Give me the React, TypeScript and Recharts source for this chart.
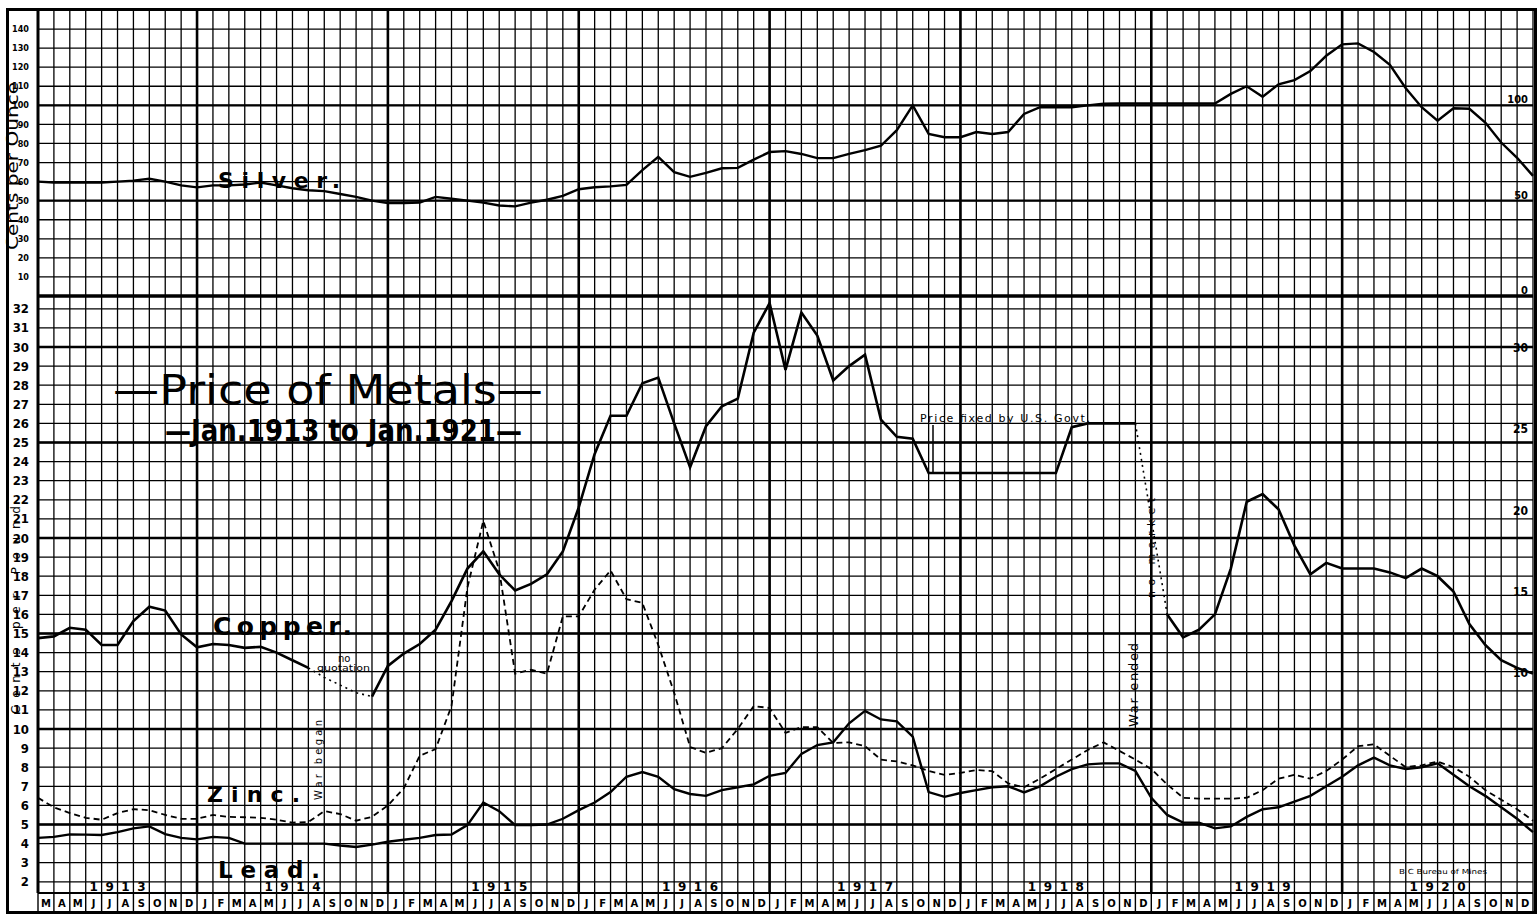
import React from 'react';
import { LineChart, Line, XAxis, YAxis, CartesianGrid, ReferenceLine } from 'recharts';

// month cells along the bottom row: Mar 1913 .. Dec 1920
const MONTH_CELLS = [
  'M', 'A', 'M', 'J', 'J', 'A', 'S', 'O', 'N', 'D',
  'J', 'F', 'M', 'A', 'M', 'J', 'J', 'A', 'S', 'O', 'N', 'D',
  'J', 'F', 'M', 'A', 'M', 'J', 'J', 'A', 'S', 'O', 'N', 'D',
  'J', 'F', 'M', 'A', 'M', 'J', 'J', 'A', 'S', 'O', 'N', 'D',
  'J', 'F', 'M', 'A', 'M', 'J', 'J', 'A', 'S', 'O', 'N', 'D',
  'J', 'F', 'M', 'A', 'M', 'J', 'J', 'A', 'S', 'O', 'N', 'D',
  'J', 'F', 'M', 'A', 'M', 'J', 'J', 'A', 'S', 'O', 'N', 'D',
  'J', 'F', 'M', 'A', 'M', 'J', 'J', 'A', 'S', 'O', 'N', 'D',
];

// year written one digit per cell, starting at this cell
const YEAR_MARKS = [
  { year: '1913', cell: 3 },
  { year: '1914', cell: 14 },
  { year: '1915', cell: 27 },
  { year: '1916', cell: 39 },
  { year: '1917', cell: 50 },
  { year: '1918', cell: 62 },
  { year: '1919', cell: 75 },
  { year: '1920', cell: 86 },
];

// January boundaries (heavier rules)
const YEAR_LINES = [10, 22, 34, 46, 58, 70, 82];

// monthly prices, one per month boundary (Mar 1913 .. Jan 1921)
const SILVER = [
  60, 59.5, 59.5, 59.5, 59.5, 60, 60.5, 61.5, 60, 58,
  57, 58, 58, 58.5, 59.5, 58, 56.5, 55.5, 55, 53.5,
  52, 50, 48.7, 48.7, 49, 52, 51, 50, 49, 47.5,
  47, 49, 50.5, 52.5, 56, 57, 57.5, 58.3, 66, 73,
  65, 62.5, 64.6, 67, 67.2, 71.5, 75.5, 76, 74.5, 72.3,
  72.3, 74.5, 76.5, 78.8, 87, 100, 85, 83.3, 83.3, 86,
  85, 86, 95.5, 99, 99, 99, 100, 100.8, 101, 101,
  101, 101, 101, 101, 101, 106, 110, 104.5, 111, 113.2,
  118, 126, 132, 132.5, 128, 121.3, 109, 99, 92, 98.5,
  98.2, 91, 80.5, 72.5, 63,
];

const COPPER = [
  14.76, 14.85, 15.3, 15.2, 14.4, 14.4, 15.65, 16.4, 16.2, 14.95,
  14.28, 14.45, 14.4, 14.25, 14.3, 14.0, 13.6, 13.2, null, null,
  null, 11.7, 13.3, 13.95, 14.45, 15.2, 16.7, 18.4, 19.3, 18.1,
  17.25, 17.6, 18.1, 19.3, 21.6, 24.4, 26.4, 26.4, 28.1, 28.4,
  26.0, 23.7, 25.85, 26.9, 27.3, 30.75, 32.3, 28.8, 31.8, 30.6,
  28.25, 29.0, 29.6, 26.2, 25.3, 25.2, 23.4, 23.4, 23.4, 23.4,
  23.4, 23.4, 23.4, 23.4, 23.4, 25.8, 26.0, 26.0, 26.0, 26.0,
  null, 16.0, 14.8, 15.2, 16.0, 18.4, 21.9, 22.3, 21.5, 19.6,
  18.1, 18.7, 18.4, 18.4, 18.4, 18.2, 17.9, 18.4, 18.0, 17.2,
  15.5, 14.4, 13.6, 13.2, 12.9,
];

// "no quotation" / "no market" stretches, drawn dotted
const COPPER_GAPS = [
  null, null, null, null, null, null, null, null, null, null,
  null, null, null, null, null, null, null, 13.2, 12.7, 12.3,
  11.9, 11.7, null, null, null, null, null, null, null, null,
  null, null, null, null, null, null, null, null, null, null,
  null, null, null, null, null, null, null, null, null, null,
  null, null, null, null, null, null, null, null, null, null,
  null, null, null, null, null, null, null, null, null, 26.0,
  21.0, 16.0, null, null, null, null, null, null, null, null,
  null, null, null, null, null, null, null, null, null, null,
  null, null, null, null, null,
];

const ZINC = [
  6.4, 5.9, 5.6, 5.35, 5.25, 5.6, 5.8, 5.75, 5.5, 5.3,
  5.3, 5.5, 5.4, 5.38, 5.35, 5.25, 5.1, 5.13, 5.7, 5.55,
  5.2, 5.4, 6.0, 6.9, 8.6, 8.95, 11.2, 17.4, 20.9, 18.3,
  12.9, 13.1, 12.9, 15.9, 15.9, 17.3, 18.3, 16.8, 16.6, 14.4,
  11.9, 9.06, 8.75, 9.0, 10.0, 11.2, 11.1, 9.8, 10.1, 10.1,
  9.27, 9.3, 9.1, 8.4, 8.3, 8.1, 7.8, 7.6, 7.7, 7.85,
  7.8, 7.15, 6.95, 7.4, 7.9, 8.4, 8.9, 9.3, 8.85, 8.4,
  7.9, 7.1, 6.4, 6.35, 6.35, 6.35, 6.4, 6.8, 7.4, 7.6,
  7.4, 7.8, 8.4, 9.1, 9.2, 8.6, 8.0, 8.1, 8.3, 8.0,
  7.5, 6.8, 6.3, 5.8, 5.2,
];

const LEAD = [
  4.3, 4.35, 4.48, 4.47, 4.45, 4.6, 4.8, 4.9, 4.5, 4.3,
  4.22, 4.35, 4.3, 4.0, 4.0, 4.0, 4.0, 4.0, 4.0, 3.9,
  3.82, 3.95, 4.1, 4.2, 4.3, 4.45, 4.48, 4.97, 6.15, 5.7,
  4.97, 4.97, 5.0, 5.3, 5.75, 6.15, 6.7, 7.5, 7.75, 7.5,
  6.85, 6.6, 6.5, 6.8, 6.95, 7.1, 7.55, 7.7, 8.7, 9.16,
  9.3, 10.3, 10.95, 10.5, 10.4, 9.6, 6.7, 6.45, 6.65, 6.8,
  6.95, 7.0, 6.68, 7.0, 7.5, 7.9, 8.15, 8.2, 8.2, 7.8,
  6.4, 5.5, 5.1, 5.1, 4.8, 4.9, 5.4, 5.8, 5.9, 6.2,
  6.5, 7.0, 7.5, 8.1, 8.5, 8.1, 7.9, 8.0, 8.2, 7.6,
  7.0, 6.5, 5.9, 5.3, 4.6,
];

const SILVER_TICKS = [0, 10, 20, 30, 40, 50, 60, 70, 80, 90, 100, 110, 120, 130, 140, 150];
const SILVER_RIGHT_TICKS = [0, 50, 100];
const SILVER_HEAVY = [50, 100];
const METAL_TICKS = [2, 3, 4, 5, 6, 7, 8, 9, 10, 11, 12, 13, 14, 15, 16, 17, 18, 19, 20, 21, 22, 23, 24, 25, 26, 27, 28, 29, 30, 31, 32];
const METAL_RIGHT_TICKS = [10, 15, 20, 25, 30];
const METAL_HEAVY = [5, 10, 15, 20, 25, 30];

const BOUNDARIES = Array.from({ length: MONTH_CELLS.length + 1 }, (_, i) => i);

const metalData = BOUNDARIES.map((i) => ({
  m: i,
  copper: COPPER[i],
  gap: COPPER_GAPS[i],
  zinc: ZINC[i],
  lead: LEAD[i],
}));
const silverData = BOUNDARIES.map((i) => ({ m: i, silver: SILVER[i] }));

const W = 1537;
const H = 916;
const PLOT_LEFT = 38;
const PLOT_RIGHT = 1533;
const CELL = (PLOT_RIGHT - PLOT_LEFT) / MONTH_CELLS.length;
const SPLIT = 296;
const PLOT_BOTTOM = 893;
const FONT = "'DejaVu Sans', sans-serif";
const COND = "'DejaVu Sans Condensed', 'DejaVu Sans', sans-serif";

const LeftTick = ({ x, y, payload, size, hideVals }: any) => {
  if (hideVals.includes(payload.value)) return null;
  return (
    <text x={x - 1} y={y} dy="0.35em" textAnchor="end" fontSize={size} fontWeight="bold" fontFamily={COND} fill="#000">
      {payload.value}
    </text>
  );
};

const RightTick = ({ x, y, payload, size, lift }: any) => (
  <text x={x + 3} y={y - lift} dy="0.35em" textAnchor="end" fontSize={size} fontWeight="bold" fontFamily={COND} fill="#000">
    {payload.value}
  </text>
);

const MonthTick = ({ x, payload }: any) => {
  const i = payload.value as number;
  const parts: React.ReactNode[] = [
    <line key="s" x1={x} x2={x} y1={PLOT_BOTTOM} y2={PLOT_BOTTOM + 20} stroke="#000" strokeWidth={1.4} />,
  ];
  if (i < MONTH_CELLS.length) {
    parts.push(
      <text key="m" x={x + CELL / 2} y={PLOT_BOTTOM + 14} textAnchor="middle" fontSize={10} fontWeight="bold" fontFamily={FONT} fill="#000">
        {MONTH_CELLS[i]}
      </text>
    );
    const ym = YEAR_MARKS.find((d) => i >= d.cell && i < d.cell + d.year.length);
    if (ym) {
      parts.push(
        <text key="y" x={x + CELL / 2} y={PLOT_BOTTOM - 2} textAnchor="middle" fontSize={12} fontWeight="bold" fontFamily={FONT} fill="#000">
          {ym.year[i - ym.cell]}
        </text>
      );
    }
  }
  return <g>{parts}</g>;
};

const Annotations = () => (
  <svg width={W} height={H} style={{ position: 'absolute', left: 0, top: 0, pointerEvents: 'none' }} fontFamily={FONT}>
    <text x={13} y={166} transform="rotate(-90 13 166)" textAnchor="middle" dominantBaseline="middle" fontSize={15} textLength={168} lengthAdjust="spacingAndGlyphs">
      Cents per Ounce
    </text>
    <text x={16} y={610} transform="rotate(-90 16 610)" textAnchor="middle" dominantBaseline="middle" fontSize={12} textLength={208} lengthAdjust="spacing">
      Cents  per  Pound
    </text>
    <text x={218} y={188} fontSize={22} fontWeight="bold" textLength={122} lengthAdjust="spacing">Silver.</text>
    <text x={113} y={404} fontSize={40} textLength={430} lengthAdjust="spacingAndGlyphs">—Price of Metals—</text>
    <text x={165} y={441} fontSize={30} fontWeight="bold" textLength={357} lengthAdjust="spacingAndGlyphs">—Jan.1913 to Jan.1921—</text>
    <text x={213} y={635} fontSize={25} fontWeight="bold" textLength={139} lengthAdjust="spacing">Copper.</text>
    <text x={207} y={802} fontSize={22} fontWeight="bold" textLength={93} lengthAdjust="spacing">Zinc.</text>
    <text x={218} y={878} fontSize={23} fontWeight="bold" textLength={102} lengthAdjust="spacing">Lead.</text>
    <text x={338} y={662} fontSize={10}>no</text>
    <text x={317} y={671} fontSize={9} textLength={53} lengthAdjust="spacingAndGlyphs">quotation</text>
    <text x={319} y={760} transform="rotate(-90 319 760)" textAnchor="middle" dominantBaseline="middle" fontSize={10} textLength={80} lengthAdjust="spacing">War began</text>
    <text x={920} y={422} fontSize={11} textLength={170} lengthAdjust="spacing">Price  fixed  by  U.S. Govt.</text>
    <line x1={933} x2={933} y1={425} y2={472} stroke="#000" strokeWidth={1.5} />
    <text x={1134} y={685} transform="rotate(-90 1134 685)" textAnchor="middle" dominantBaseline="middle" fontSize={13} textLength={84} lengthAdjust="spacing">War  ended</text>
    <text x={1152} y={548} transform="rotate(-90 1152 548)" textAnchor="middle" dominantBaseline="middle" fontSize={11} textLength={100} lengthAdjust="spacing">no   market</text>
    <text x={1399} y={874} fontSize={7} textLength={88} lengthAdjust="spacingAndGlyphs">B C Bureau of Mines</text>
  </svg>
);

export default function App() {
  return (
    <div style={{ position: 'absolute', left: 0, top: 0, width: W, height: H, background: '#fff', overflow: 'hidden' }}>
      <div style={{ position: 'absolute', left: 0, top: 0 }}>
        <LineChart width={W} height={SPLIT + 14} data={silverData} margin={{ top: 10, right: 4, bottom: 14, left: 8 }}>
          <CartesianGrid stroke="#000" strokeWidth={1.3} />
          <XAxis dataKey="m" type="number" domain={[0, MONTH_CELLS.length]} ticks={BOUNDARIES} interval={0} hide />
          <YAxis
            type="number"
            domain={[0, 150]}
            allowDataOverflow
            ticks={SILVER_TICKS}
            interval={0}
            width={30}
            axisLine={false}
            tickLine={false}
            tick={(p: any) => <LeftTick {...p} size={9} hideVals={[0, 150]} />}
          />
          <YAxis
            yAxisId="r"
            orientation="right"
            mirror
            type="number"
            domain={[0, 150]}
            allowDataOverflow
            ticks={SILVER_RIGHT_TICKS}
            interval={0}
            axisLine={false}
            tickLine={false}
            tick={(p: any) => <RightTick {...p} size={11} lift={6} />}
          />
          {YEAR_LINES.map((v) => (
            <ReferenceLine key={v} x={v} stroke="#000" strokeWidth={2.6} />
          ))}
          {SILVER_HEAVY.map((v) => (
            <ReferenceLine key={v} y={v} stroke="#000" strokeWidth={2.4} />
          ))}
          <ReferenceLine x={0} stroke="#000" strokeWidth={3} />
          <ReferenceLine y={0} stroke="#000" strokeWidth={3.5} />
          <Line type="linear" dataKey="silver" stroke="#000" strokeWidth={2.4} dot={false} isAnimationActive={false} />
        </LineChart>
      </div>
      <div style={{ position: 'absolute', left: 0, top: 0 }}>
        <LineChart width={W} height={H} data={metalData} margin={{ top: SPLIT, right: 4, bottom: 2, left: 8 }}>
          <CartesianGrid stroke="#000" strokeWidth={1.3} />
          <XAxis
            dataKey="m"
            type="number"
            domain={[0, MONTH_CELLS.length]}
            ticks={BOUNDARIES}
            interval={0}
            height={21}
            tickLine={false}
            axisLine={{ stroke: '#000', strokeWidth: 2 }}
            tick={<MonthTick />}
          />
          <YAxis
            type="number"
            domain={[1.414, 32.67]}
            allowDataOverflow
            ticks={METAL_TICKS}
            interval={0}
            width={30}
            axisLine={false}
            tickLine={false}
            tick={(p: any) => <LeftTick {...p} size={13} hideVals={[]} />}
          />
          <YAxis
            yAxisId="r"
            orientation="right"
            mirror
            type="number"
            domain={[-3.54, 33.2]}
            allowDataOverflow
            ticks={METAL_RIGHT_TICKS}
            interval={0}
            axisLine={false}
            tickLine={false}
            tick={(p: any) => <RightTick {...p} size={12} lift={0} />}
          />
          {YEAR_LINES.map((v) => (
            <ReferenceLine key={v} x={v} stroke="#000" strokeWidth={2.6} />
          ))}
          {METAL_HEAVY.map((v) => (
            <ReferenceLine key={v} y={v} stroke="#000" strokeWidth={2.4} />
          ))}
          <ReferenceLine x={0} stroke="#000" strokeWidth={3} />
          <Line type="linear" dataKey="copper" stroke="#000" strokeWidth={2.6} dot={false} connectNulls={false} isAnimationActive={false} />
          <Line type="linear" dataKey="gap" stroke="#000" strokeWidth={1.6} strokeDasharray="2 4" dot={false} connectNulls={false} isAnimationActive={false} />
          <Line type="linear" dataKey="zinc" stroke="#000" strokeWidth={1.8} strokeDasharray="6 4" dot={false} isAnimationActive={false} />
          <Line type="linear" dataKey="lead" stroke="#000" strokeWidth={2.4} dot={false} isAnimationActive={false} />
        </LineChart>
      </div>
      <div style={{ position: 'absolute', left: 6, top: 8, width: 1531, height: 906, border: '3px solid #000', boxSizing: 'border-box' }} />
      <Annotations />
    </div>
  );
}
